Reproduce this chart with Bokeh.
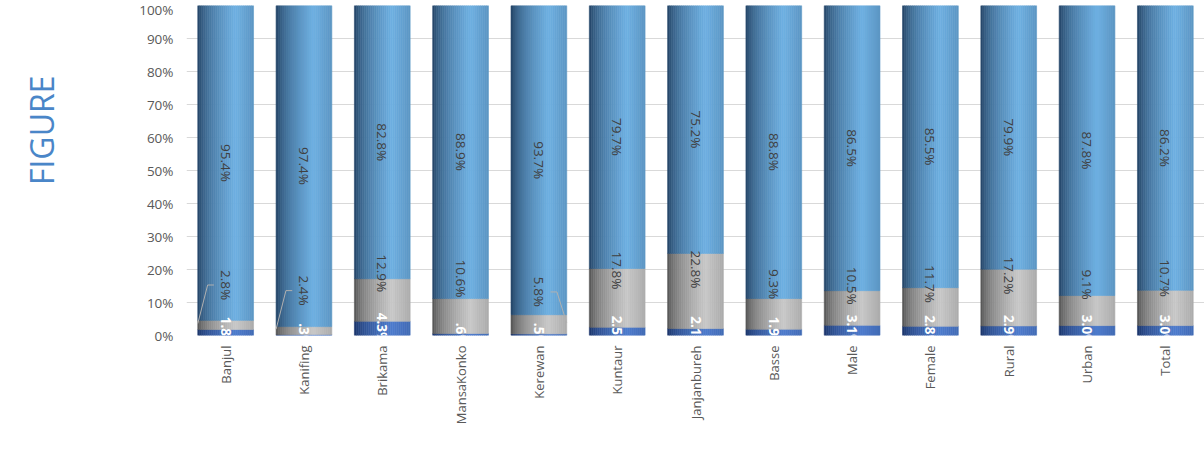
import math
from bokeh.plotting import figure
from bokeh.models import (ColumnDataSource, FactorRange, Range1d, Legend, LegendItem,
                          Title, NumeralTickFormatter, FixedTicker)
from bokeh.transform import dodge
from bokeh.core.properties import value
from bokeh.embed import file_html
from bokeh.resources import INLINE

# ---------------- data ----------------
categories = ["Banjul", "Kanifing", "Brikama", "MansaKonko", "Kerewan", "Kuntaur",
              "Janjanbureh", "Basse", "Male", "Female", "Rural", "Urban", "Total"]
poor = [1.8, 0.3, 4.3, 0.6, 0.5, 2.5, 2.1, 1.9, 3.1, 2.8, 2.9, 3.0, 3.0]
borderline = [2.8, 2.4, 12.9, 10.6, 5.8, 17.8, 22.8, 9.3, 10.5, 11.7, 17.2, 9.1, 10.7]
acceptable = [95.4, 97.4, 82.8, 88.9, 93.7, 79.7, 75.2, 88.8, 86.5, 85.5, 79.9, 87.8, 86.2]
poor_text = ["1.8%", ".3%", "4.3%", ".6%", ".5%", "2.5%", "2.1%", "1.9%", "3.1%",
             "2.8%", "2.9%", "3.0%", "3.0%"]
series_names = ["Poor", "Borderline", "Acceptable"]
y_ticks = [0, 0.1, 0.2, 0.3, 0.4, 0.5, 0.6, 0.7, 0.8, 0.9, 1.0]

# ---------------- layout / style constants ----------------
BAR_W = 0.712
N_STRIPS = 28
FONT = "Open Sans"
TEXT_DARK = "#404040"
# vertical position (share of height) of the Borderline data labels as placed in the chart
border_label_pos = [0.153, 0.136, 0.189, 0.173, 0.132, 0.197, 0.200, 0.156, 0.151,
                    0.156, 0.182, 0.154, 0.174]
# categories whose Borderline label has a leader line, and side (-1 left, +1 right)
leader_side = {"Banjul": -1, "Kanifing": -1, "Kerewan": 1}

# ---------------- derived stacks ----------------
tot = [a + b + c for a, b, c in zip(poor, borderline, acceptable)]
b0 = [0.0] * len(categories)
t0 = [p / t for p, t in zip(poor, tot)]
t1 = [(p + b) / t for p, b, t in zip(poor, borderline, tot)]
t2 = [1.0] * len(categories)

src = ColumnDataSource(dict(
    cat=categories, b0=b0, t0=t0, t1=t1, t2=t2,
    poor_y=[(a + b) / 2 for a, b in zip(b0, t0)],
    acc_y=[(a + b) / 2 for a, b in zip(t1, t2)],
    bord_y=border_label_pos,
    poor_lbl=poor_text,
    bord_lbl=["%.1f%%" % v for v in borderline],
    acc_lbl=["%.1f%%" % v for v in acceptable],
))

p = figure(x_range=FactorRange(factors=categories, range_padding=0),
           y_range=Range1d(0, 1),
           frame_width=1018, frame_height=330,
           min_border_left=186, min_border_right=0, min_border_top=5,
           min_border_bottom=0,
           output_backend="svg", toolbar_location=None)
p.outline_line_color = None
p.background_fill_color = "white"
p.border_fill_color = "white"

# axes
p.yaxis.ticker = FixedTicker(ticks=y_ticks)
p.yaxis.formatter = NumeralTickFormatter(format="0%")
p.yaxis.axis_line_color = None
p.yaxis.major_tick_line_color = None
p.yaxis.minor_tick_line_color = None
p.yaxis.major_tick_out = 0
p.yaxis.minor_tick_out = 0
p.yaxis.major_label_standoff = 13
p.yaxis.major_label_text_font = FONT
p.yaxis.major_label_text_font_size = "13.5px"
p.yaxis.major_label_text_color = "#595959"

p.xaxis.axis_line_color = None
p.xaxis.major_tick_line_color = None
p.xaxis.minor_tick_line_color = None
p.xaxis.major_tick_out = 0
p.xaxis.minor_tick_out = 0
p.xaxis.major_label_orientation = math.pi / 2
p.xaxis.major_label_standoff = 10
p.xaxis.major_label_text_font = FONT
p.xaxis.major_label_text_font_size = "13px"
p.xaxis.major_label_text_color = "#595959"

p.xgrid.grid_line_color = None
p.ygrid.grid_line_color = "#d9d9d9"
p.ygrid.grid_line_width = 1


# ---------------- cylinder-like gradient bars ----------------
def mix(c1, c2, f):
    return "#%02x%02x%02x" % tuple(int(round(a + (b - a) * f)) for a, b in zip(c1, c2))


def profile(t):
    if t < 0.68:
        return (t / 0.68) ** 0.55
    return 1.0 - 0.22 * (t - 0.68) / 0.32


palettes = {
    "Poor": ((22, 45, 95), (78, 124, 205)),
    "Borderline": ((72, 72, 72), (200, 200, 200)),
    "Acceptable": ((28, 56, 88), (110, 176, 226)),
}
segments = [("Poor", "b0", "t0"), ("Borderline", "t0", "t1"), ("Acceptable", "t1", "t2")]

sw = BAR_W / N_STRIPS
for name, bcol, tcol in segments:
    dark, light = palettes[name]
    for i in range(N_STRIPS):
        t = (i + 0.5) / N_STRIPS
        c = mix(dark, light, profile(t))
        off = -BAR_W / 2 + (i + 0.5) * sw
        p.vbar(x=dodge("cat", off, range=p.x_range), width=sw, bottom=bcol, top=tcol,
               source=src, fill_color=c, line_color=c, line_width=0.6)

# ---------------- data labels ----------------
p.text(x="cat", y="acc_y", text="acc_lbl", source=src, angle=-math.pi / 2,
       text_align="center", text_baseline="middle", text_color=TEXT_DARK,
       text_font=value(FONT), text_font_size="13.5px")
p.text(x="cat", y="bord_y", text="bord_lbl", source=src, angle=-math.pi / 2,
       text_align="center", text_baseline="middle", text_color=TEXT_DARK,
       text_font=value(FONT), text_font_size="13.5px")
p.text(x="cat", y="poor_y", text="poor_lbl", source=src, angle=-math.pi / 2,
       text_align="center", text_baseline="middle", text_color="white",
       text_font=value(FONT), text_font_size="13.5px", text_font_style="bold")

# leader lines for the small Borderline segments
xs, ys = [], []
for cat, side in leader_side.items():
    k = categories.index(cat)
    cx = k + 0.5
    xs.append([cx + side * 0.15, cx + side * 0.23, cx + side * BAR_W / 2])
    ly = border_label_pos[k]
    ys.append([ly, ly, (t0[k] + t1[k]) / 2 + 0.004])
p.multi_line(xs=xs, ys=ys, line_color="#b0b0b0", line_width=1)

# ---------------- legend ----------------
flat = {"Poor": "#4472c4", "Borderline": "#a5a5a5", "Acceptable": "#5b9bd5"}
items = []
for name in series_names:
    r = p.vbar(x=[], top=[], width=0.5, fill_color=flat[name], line_color=None)
    items.append(LegendItem(label=name, renderers=[r]))
legend = Legend(items=items, orientation="horizontal", location="center",
                glyph_width=8, glyph_height=8, label_standoff=4, spacing=45,
                padding=0, margin=0, border_line_color=None, background_fill_alpha=0,
                label_text_font=FONT, label_text_font_size="13px",
                label_text_color="#595959", label_height=14)
p.add_layout(legend, "below")

# side caption (with a blank spacer panel between it and the y axis)
spacer = Title(text=" ", text_font_size="37px", text_color="white")
p.add_layout(spacer, "left")
cap = Title(text="FIGURE", align="right", offset=70, vertical_align="top",
            text_font=FONT, text_font_size="32px", text_font_style="normal",
            text_color="#4a86c8")
if "standoff" in Title.properties():
    cap.standoff = 38
p.add_layout(cap, "left")

open("out.html", "w").write(file_html(p, INLINE))
